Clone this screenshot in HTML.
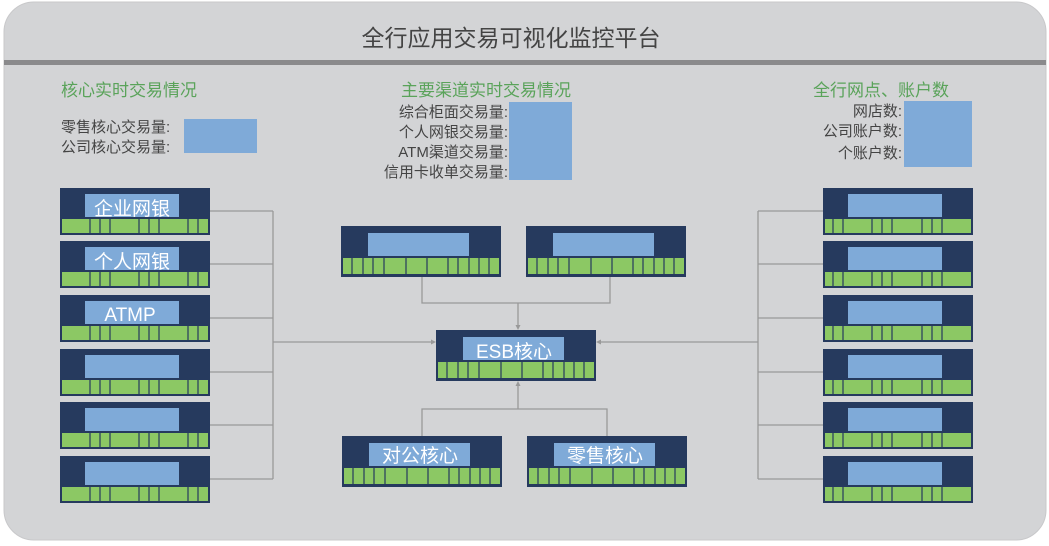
<!DOCTYPE html>
<html><head><meta charset="utf-8"><style>
body{margin:0;background:#fff;}
svg{display:block;font-family:"Liberation Sans","Noto Sans CJK SC",sans-serif;}
</style></head><body>
<svg width="1049" height="546" viewBox="0 0 1049 546" xmlns="http://www.w3.org/2000/svg">
<defs>
<symbol id="ln" viewBox="0 0 150 47" width="150" height="47">
<rect width="150" height="47" fill="#263a5e"/>
<rect x="25" y="6" width="94" height="23" fill="#7faad8"/>
<rect x="2" y="31" width="146" height="14" fill="#8cc864"/>
<g stroke="#263a5e" stroke-width="1.2"><path d="M30 31V45M40 31V45M50 31V45M79 31V45M89 31V45M99 31V45M128 31V45M138 31V45"/></g>
</symbol>
<symbol id="rn" viewBox="0 0 150 47" width="150" height="47">
<rect width="150" height="47" fill="#263a5e"/>
<rect x="25" y="6" width="94" height="23" fill="#7faad8"/>
<rect x="2" y="31" width="146" height="14" fill="#8cc864"/>
<g stroke="#263a5e" stroke-width="1.2"><path d="M10 31V45M20 31V45M49 31V45M59 31V45M69 31V45M99 31V45M109 31V45M119 31V45"/></g>
</symbol>
<symbol id="cn" viewBox="0 0 160 51" width="160" height="51">
<rect width="160" height="51" fill="#263a5e"/>
<rect x="27" y="7" width="101" height="23" fill="#7faad8"/>
<rect x="2" y="32" width="156" height="16" fill="#8cc864"/>
<g stroke="#263a5e" stroke-width="1.2"><path d="M11 32V48M22 32V48M32 32V48M43 32V48M65 32V48M86 32V48M107 32V48M117 32V48M128 32V48M138 32V48M148 32V48"/></g>
</symbol>
</defs>
<rect width="1049" height="546" fill="#fff"/>
<rect x="4" y="2" width="1042" height="538" rx="30" fill="#d3d4d6" stroke="#c8c8ca"/>
<rect x="4" y="60" width="1042" height="5" fill="#8a8a8c"/>
<text x="511" y="46" font-size="23" fill="#444" text-anchor="middle">全行应用交易可视化监控平台</text>

<g font-size="17" fill="#5aa35a">
<text x="61" y="96">核心实时交易情况</text>
<text x="486" y="96" text-anchor="middle">主要渠道实时交易情况</text>
<text x="813" y="96">全行网点、账户数</text>
</g>
<g font-size="15" fill="#444">
<text x="61" y="132">零售核心交易量:</text>
<text x="61" y="152">公司核心交易量:</text>
<g text-anchor="end">
<text x="508" y="117">综合柜面交易量:</text>
<text x="508" y="137">个人网银交易量:</text>
<text x="508" y="157">ATM渠道交易量:</text>
<text x="508" y="177">信用卡收单交易量:</text>
<text x="902" y="116">网店数:</text>
<text x="902" y="136">公司账户数:</text>
<text x="902" y="158">个账户数:</text>
</g></g>
<rect x="184" y="119" width="73" height="34" fill="#7faad8"/>
<rect x="509" y="102" width="63" height="78" fill="#7faad8"/>
<rect x="904" y="101" width="68" height="66" fill="#7faad8"/>

<g stroke="#999" stroke-width="1.3" fill="none">
<path d="M209 211H273M209 264H273M209 318H273M209 372H273M209 425H273M209 479H273M273 211V479M273 342H432"/>
<path d="M823 211H758M823 264H758M823 318H758M823 372H758M823 425H758M823 479H758M758 211V479M758 342H600"/>
<path d="M422 277V303H610V277M518 303V326"/>
<path d="M422 436V409H607V436M518 409V385"/>
</g>
<g fill="#999">
<path d="M436 342l-5 -2.5v5z"/><path d="M596 342l5 -2.5v5z"/>
<path d="M518 330l-2.5 -5h5z"/><path d="M518 381l-2.5 5h5z"/>
</g>

<use href="#ln" x="60" y="188"/><use href="#ln" x="60" y="241"/><use href="#ln" x="60" y="295"/>
<use href="#ln" x="60" y="349"/><use href="#ln" x="60" y="402"/><use href="#ln" x="60" y="456"/>
<use href="#rn" x="823" y="188"/><use href="#rn" x="823" y="241"/><use href="#rn" x="823" y="295"/>
<use href="#rn" x="823" y="349"/><use href="#rn" x="823" y="402"/><use href="#rn" x="823" y="456"/>
<use href="#cn" x="341" y="226"/><use href="#cn" x="526" y="226"/>
<use href="#cn" x="436" y="330"/>
<use href="#cn" x="342" y="436"/><use href="#cn" x="527" y="436"/>

<g font-size="19" fill="#fff" text-anchor="middle">
<text x="132" y="215">企业网银</text>
<text x="132" y="268">个人网银</text>
<text x="130" y="321">ATMP</text>
<text x="514" y="358">ESB核心</text>
<text x="420" y="462">对公核心</text>
<text x="605" y="462">零售核心</text>
</g>
</svg>
</body></html>
